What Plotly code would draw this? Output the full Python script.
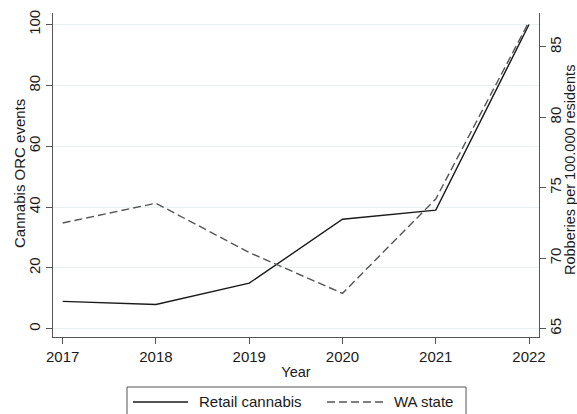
import plotly.graph_objects as go

years = [2017, 2018, 2019, 2020, 2021, 2022]
retail_cannabis = [9, 8, 15, 36, 39, 100]
wa_state = [72.5, 73.9, 70.4, 67.5, 74.2, 86.8]
series_names = ["Retail cannabis", "WA state"]

left_ticks = [0, 20, 40, 60, 80, 100]
right_ticks = [65, 70, 75, 80, 85]

FONT = "Liberation Sans, Arial, sans-serif"
AX = "#555555"
TXT = "#1a1a1a"
W, H = 577, 414
ML, MR, MT, MB = 53, 38, 13, 77
PW, PH = W - ML - MR, H - MT - MB


def px_x(p):
    return (p - ML) / PW


def px_y(p):
    return (H - MB - p) / PH


solid_style = dict(color="#1a1a1a", width=1.4)
dash_style = dict(color="#555555", width=1.4, dash="8px,4px")

fig = go.Figure()
fig.add_trace(go.Scatter(
    x=years, y=retail_cannabis, mode="lines", name=series_names[0],
    line=solid_style, yaxis="y", showlegend=False))
fig.add_trace(go.Scatter(
    x=years, y=wa_state, mode="lines", name=series_names[1],
    line=dash_style, yaxis="y2", showlegend=False))

# legend box (drawn manually, like the reference's framed key)
ly = px_y(402)
shapes = [
    dict(type="rect", xref="paper", yref="paper",
         x0=px_x(127), x1=px_x(466), y0=px_y(387), y1=px_y(430),
         line=dict(color="#555555", width=1), fillcolor="white", layer="above"),
    dict(type="line", xref="paper", yref="paper",
         x0=px_x(133), x1=px_x(188), y0=ly, y1=ly, line=solid_style),
    dict(type="line", xref="paper", yref="paper",
         x0=px_x(327), x1=px_x(386), y0=ly, y1=ly, line=dash_style),
]
annotations = [
    dict(text=series_names[0], xref="paper", yref="paper", x=px_x(197), y=px_y(401.5),
         xanchor="left", yanchor="middle", showarrow=False,
         font=dict(size=15, color=TXT)),
    dict(text=series_names[1], xref="paper", yref="paper", x=px_x(392), y=px_y(401.5),
         xanchor="left", yanchor="middle", showarrow=False,
         font=dict(size=15, color=TXT)),
    dict(text="Cannabis ORC events", xref="paper", yref="paper",
         x=px_x(19), y=px_y(174), xanchor="center", yanchor="middle",
         textangle=-90, showarrow=False, font=dict(size=15, color=TXT)),
    dict(text="Robberies per 100.000 residents", xref="paper", yref="paper",
         x=px_x(570), y=px_y(170), xanchor="center", yanchor="middle",
         textangle=-90, showarrow=False, font=dict(size=14.5, color=TXT)),
]

fig.update_layout(
    width=W, height=H,
    margin=dict(l=ML, r=MR, t=MT, b=MB),
    paper_bgcolor="white", plot_bgcolor="white",
    font=dict(family=FONT, size=15, color=TXT),
    showlegend=False,
    shapes=shapes,
    annotations=annotations,
    xaxis=dict(
        range=[2016.896, 2022.107], tickvals=years, automargin=False,
        ticks="outside", ticklen=6, tickcolor=AX, tickwidth=1.2,
        showline=True, linecolor=AX, linewidth=1.2,
        showgrid=False, zeroline=False,
        tickfont=dict(size=15, color=TXT),
        title=dict(text="Year", font=dict(size=14.5, color=TXT), standoff=2),
    ),
    yaxis=dict(
        range=[-2.7, 103.8], tickvals=left_ticks, tickangle=-90, automargin=False,
        ticks="outside", ticklen=6, tickcolor=AX, tickwidth=1.2,
        showline=True, linecolor=AX, linewidth=1.2,
        showgrid=True, gridcolor="#e8f0f2", gridwidth=1,
        zeroline=False,
        tickfont=dict(size=15, color=TXT),
    ),
    yaxis2=dict(
        range=[64.40, 87.41], tickvals=right_ticks, tickangle=-90, automargin=False,
        overlaying="y", side="right", ticklabelstandoff=-3,
        ticks="outside", ticklen=6, tickcolor=AX, tickwidth=1.2,
        showline=True, linecolor=AX, linewidth=1.2,
        showgrid=False, zeroline=False,
        tickfont=dict(size=15, color=TXT),
    ),
)

fig.write_html(
    "out.html",
    config={"displayModeBar": False},
    post_script="document.body.style.margin='0';document.body.style.overflow='hidden';",
)
